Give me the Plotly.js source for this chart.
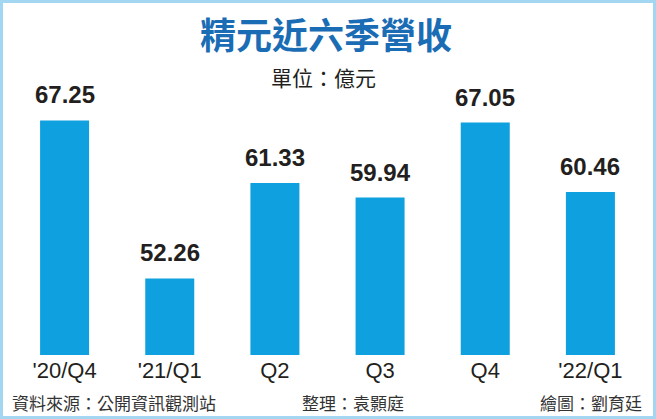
<!DOCTYPE html>
<html>
<head>
    <meta charset="UTF-8">
    <title>精元近六季營收</title>
    <script src="https://cdn.plot.ly/plotly-3.0.1.min.js"></script>
    <style>
    body {
      margin: 0;
      padding: 0;
      background: #ffffff;
    }
    .frame {
      width: 650px;
      height: 413px;
      border: 3px solid #a3d7f1;
    }
    #chart {
      width: 650px;
      height: 413px;
    }
    </style>
</head>
<body>
    <div class="frame">
        <div id="chart"></div>
    </div>

    <script>
        // quarterly revenue, unit: 億元
        var quarters = ["'20/Q4", "'21/Q1", "Q2", "Q3", "Q4", "'22/Q1"];
        var revenue = [67.25, 52.26, 61.33, 59.94, 67.05, 60.46];
        var valueLabels = ["67.25", "52.26", "61.33", "59.94", "67.05", "60.46"];

        var cjk = "'Noto Sans CJK TC', 'Noto Sans CJK SC', sans-serif";
        var latin = "'Liberation Sans', Arial, sans-serif";

        var trace = {
            x: quarters,
            y: revenue,
            type: 'bar',
            marker: { color: '#0fa0df' },
            hoverinfo: 'skip'
        };

        // value on top of each bar
        var annotations = quarters.map((q, i) => {
            return {
                x: q,
                y: revenue[i],
                xref: 'x',
                yref: 'y',
                text: valueLabels[i],
                showarrow: false,
                yanchor: 'bottom',
                yshift: 10,
                font: { family: latin, size: 24, color: '#231f20', weight: 'bold' }
            };
        });

        annotations.push({
            x: 0.493, y: 0.975, xref: 'paper', yref: 'paper',
            text: '單位：億元', showarrow: false,
            xanchor: 'center', yanchor: 'middle',
            font: { family: cjk, size: 21, color: '#231f20' }
        });
        annotations.push({
            x: -0.003, y: -0.165, xref: 'paper', yref: 'paper',
            text: '資料來源：公開資訊觀測站', showarrow: false,
            xanchor: 'left', yanchor: 'middle',
            font: { family: cjk, size: 17, color: '#333333' }
        });
        annotations.push({
            x: 0.540, y: -0.165, xref: 'paper', yref: 'paper',
            text: '整理：袁顥庭', showarrow: false,
            xanchor: 'center', yanchor: 'middle',
            font: { family: cjk, size: 17, color: '#333333' }
        });
        annotations.push({
            x: 1.0016, y: -0.165, xref: 'paper', yref: 'paper',
            text: '繪圖：劉育廷', showarrow: false,
            xanchor: 'right', yanchor: 'middle',
            font: { family: cjk, size: 17, color: '#333333' }
        });

        var layout = {
            width: 650,
            height: 413,
            title: {
                text: '精元近六季營收',
                x: 0.497, xref: 'container', xanchor: 'center',
                y: 0.920, yref: 'container', yanchor: 'middle',
                font: { family: cjk, size: 36, color: '#1a6db5', weight: 'bold' }
            },
            margin: { t: 67, b: 61, l: 9, r: 10 },
            bargap: 0.534,
            showlegend: false,
            paper_bgcolor: '#ffffff',
            plot_bgcolor: '#ffffff',
            xaxis: {
                showgrid: false,
                zeroline: false,
                showline: false,
                ticks: '',
                tickfont: { family: latin, size: 22, color: '#231f20' }
            },
            yaxis: {
                range: [45, 72.04],
                showgrid: false,
                zeroline: false,
                showline: false,
                showticklabels: false,
                ticks: ''
            },
            annotations: annotations
        };

        Plotly.newPlot('chart', [trace], layout, { displayModeBar: false, staticPlot: true });
    </script>
</body>
</html>
